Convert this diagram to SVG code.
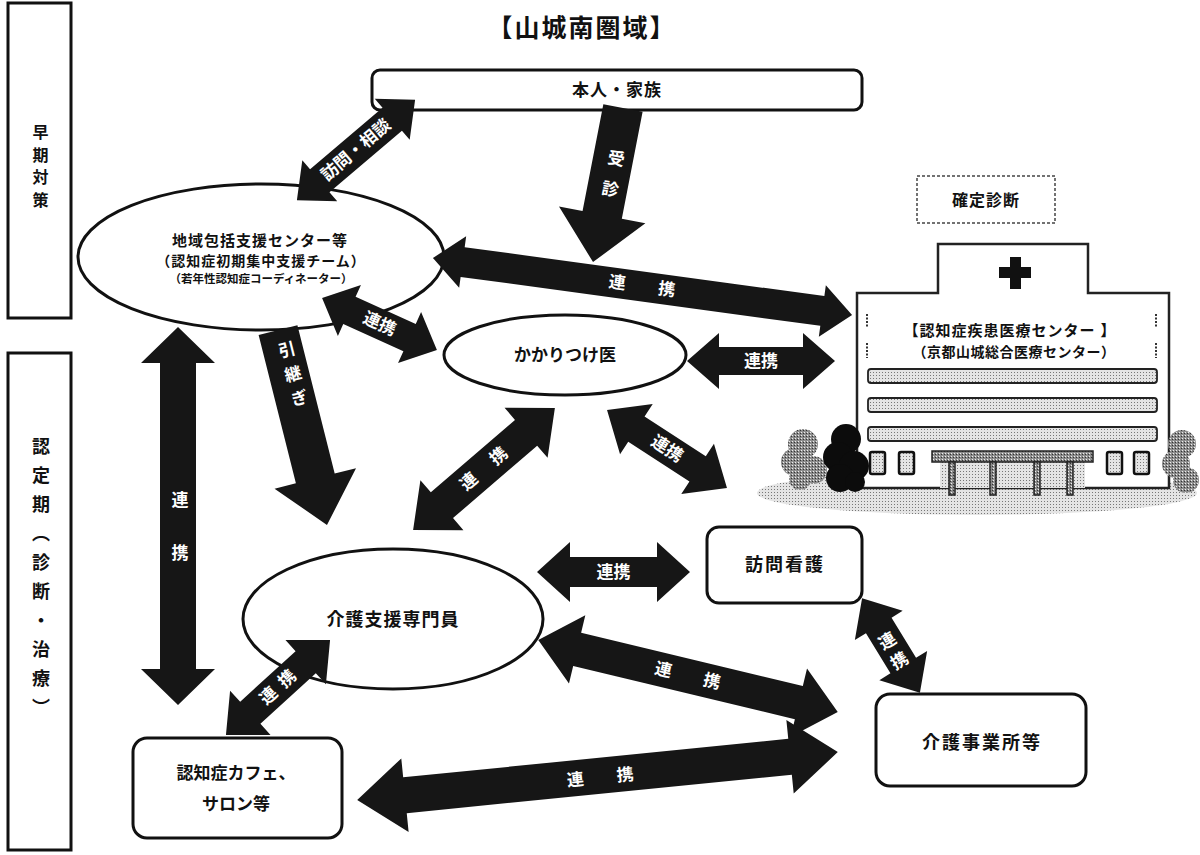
<svg xmlns="http://www.w3.org/2000/svg" width="1200" height="855" viewBox="0 0 1200 855">
  <defs>
    <pattern id="dots" width="3" height="3" patternUnits="userSpaceOnUse">
      <rect width="3" height="3" fill="#e4e4e4"/>
      <rect width="1" height="1" fill="#777"/>
    </pattern>
    <pattern id="dotsDark" width="3" height="3" patternUnits="userSpaceOnUse">
      <rect width="3" height="3" fill="#8c8c8c"/>
      <rect width="1" height="1" fill="#eee"/>
      <rect x="2" y="1" width="1" height="1" fill="#333"/>
    </pattern>
  </defs>
  <style>
    text { font-family: "Liberation Sans", "Noto Sans CJK JP", sans-serif; font-weight: bold; fill: #111; }
    .frame { fill: #fff; stroke: #111; stroke-width: 3; }
    .node { fill: #fff; stroke: #111; stroke-width: 3; }
    .c { text-anchor: middle; dominant-baseline: central; }
    .v { writing-mode: vertical-rl; text-anchor: middle; }
    .arrow { fill: #161616; }
    .lbl { fill: #fff; text-anchor: middle; dominant-baseline: central; font-size: 17px; }
    .vlbl { fill: #fff; writing-mode: vertical-rl; text-anchor: middle; font-size: 17px; }
    .hline { fill: #fff; stroke: #222; stroke-width: 2.5; }
    .band { fill: url(#dots); stroke: #222; stroke-width: 1.8; }
  </style>

  <rect width="1200" height="855" fill="#fff"/>

  <!-- phase labels on the left -->
  <g id="phase-early">
    <rect class="frame" x="8" y="3" width="63" height="315"/>
    <text class="v" x="39" y="169" font-size="16" letter-spacing="6.5">早期対策</text>
  </g>
  <g id="phase-diagnosis">
    <rect class="frame" x="8" y="353" width="63" height="497"/>
    <text class="v" x="39" y="582" font-size="18" letter-spacing="11">認定期（診断・治療）</text>
  </g>

  <text id="title" class="c" x="582" y="28" font-size="25" letter-spacing="2">【山城南圏域】</text>

  <!-- hospital illustration -->
  <g id="hospital">
    <ellipse cx="977" cy="493" rx="220" ry="22" fill="url(#dots)"/>
    <rect x="917" y="176" width="138" height="47" fill="#fff" stroke="#444" stroke-width="1.5" stroke-dasharray="3 2"/>
    <text class="c" x="986" y="200" font-size="16" letter-spacing="1">確定診断</text>
    <path class="hline" d="M857,488 V293 H938 V244 H1088 V293 H1169 V488 Z"/>
    <rect x="999" y="267" width="32" height="11" fill="#111"/>
    <rect x="1010" y="257" width="11" height="32" fill="#111"/>
    <g stroke="#333" stroke-width="2" stroke-dasharray="2 1.5">
      <line x1="867" y1="314" x2="867" y2="328"/>
      <line x1="867" y1="343" x2="867" y2="358"/>
      <line x1="1156" y1="314" x2="1156" y2="328"/>
      <line x1="1156" y1="343" x2="1156" y2="358"/>
    </g>
    <text class="c" x="1010" y="330" font-size="15" letter-spacing="1">【認知症疾患医療センター 】</text>
    <text class="c" x="1014" y="352" font-size="14" letter-spacing="0.5">（京都山城総合医療センター）</text>
    <rect class="band" x="868" y="369" width="289" height="14" rx="3"/>
    <rect class="band" x="868" y="398" width="289" height="14" rx="3"/>
    <rect class="band" x="868" y="427" width="289" height="14" rx="3"/>
    <g fill="url(#dots)" stroke="#111" stroke-width="2.5">
      <rect x="870" y="452" width="15" height="22" rx="2"/>
      <rect x="899" y="452" width="15" height="22" rx="2"/>
      <rect x="1107" y="452" width="15" height="22" rx="2"/>
      <rect x="1134" y="452" width="15" height="22" rx="2"/>
    </g>
    <rect x="940" y="462" width="145" height="26" fill="url(#dots)"/>
    <rect x="932" y="451" width="161" height="11" fill="url(#dotsDark)" stroke="#222" stroke-width="1.5"/>
    <g fill="url(#dotsDark)" stroke="#222" stroke-width="1.5">
      <rect x="949" y="462" width="6" height="33"/>
      <rect x="990" y="462" width="6" height="33"/>
      <rect x="1034" y="462" width="6" height="33"/>
      <rect x="1067" y="462" width="6" height="33"/>
    </g>
    <g fill="url(#dotsDark)">
      <circle cx="803" cy="444" r="15"/>
      <circle cx="795" cy="462" r="14"/>
      <circle cx="813" cy="470" r="14"/>
      <circle cx="800" cy="479" r="11"/>
      <circle cx="1182" cy="444" r="14"/>
      <circle cx="1176" cy="464" r="14"/>
      <circle cx="1186" cy="480" r="13"/>
    </g>
    <g fill="#0c0c0c">
      <circle cx="846" cy="439" r="15"/>
      <circle cx="838" cy="457" r="15"/>
      <circle cx="854" cy="466" r="15"/>
      <circle cx="840" cy="478" r="14"/>
      <circle cx="855" cy="482" r="10"/>
    </g>
  </g>

  <!-- service nodes -->
  <g id="person-family">
    <rect class="node" x="372" y="70" width="490" height="40" rx="8"/>
    <text class="c" x="617" y="90" font-size="17" letter-spacing="1">本人・家族</text>
  </g>
  <g id="community-center">
    <ellipse class="node" cx="261" cy="257" rx="183" ry="73"/>
    <text class="c" x="260" y="240" font-size="15" letter-spacing="1">地域包括支援センター等</text>
    <text class="c" x="261" y="261" font-size="14" letter-spacing="1">（認知症初期集中支援チーム）</text>
    <text class="c" x="261" y="279" font-size="11.5">（若年性認知症コーディネーター）</text>
  </g>
  <g id="family-doctor">
    <ellipse class="node" cx="565" cy="355" rx="121" ry="40"/>
    <text class="c" x="565" y="355" font-size="17">かかりつけ医</text>
  </g>
  <g id="care-manager">
    <ellipse class="node" cx="393" cy="619" rx="150" ry="70"/>
    <text class="c" x="393" y="620" font-size="18" letter-spacing="1">介護支援専門員</text>
  </g>
  <g id="home-nursing">
    <rect class="node" x="707" y="527" width="155" height="76" rx="12"/>
    <text class="c" x="785" y="565" font-size="18" letter-spacing="2">訪問看護</text>
  </g>
  <g id="care-office">
    <rect class="node" x="876" y="694" width="210" height="92" rx="14"/>
    <text class="c" x="982" y="743" font-size="18" letter-spacing="2">介護事業所等</text>
  </g>
  <g id="dementia-cafe">
    <rect class="node" x="133" y="738" width="209" height="100" rx="14"/>
    <text class="c" x="236" y="773" font-size="17">認知症カフェ、</text>
    <text class="c" x="236" y="804" font-size="17">サロン等</text>
  </g>

  <!-- block arrows between nodes -->
  <g id="connectors">
    <!-- visit / consultation -->
    <g transform="translate(356,150) rotate(-40.3)">
      <polygon class="arrow" points="-77.5,0 -47.5,-27 -47.5,-15 47.5,-15 47.5,-27 77.5,0 47.5,27 47.5,15 -47.5,15 -47.5,27"/>
      <text class="lbl" x="0" y="0" font-size="16">訪問・相談</text>
    </g>
    <!-- consultation visit to the doctor -->
    <g transform="translate(608,185) rotate(101)">
      <polygon class="arrow" points="-78.5,-20 30.5,-20 30.5,-44 78.5,0 30.5,44 30.5,20 -78.5,20"/>
    </g>
    <text class="vlbl" transform="translate(610,180) rotate(11)" x="0" y="0" letter-spacing="14">受診</text>
    <!-- handover -->
    <g transform="translate(302.5,427.5) rotate(75.9)">
      <polygon class="arrow" points="-100.5,-20 52.5,-20 52.5,-42 100.5,0 52.5,42 52.5,20 -100.5,20"/>
    </g>
    <text class="vlbl" transform="translate(292,378) rotate(-14)" x="0" y="0" letter-spacing="8">引継ぎ</text>
    <!-- community center ⇔ cafe -->
    <g transform="translate(178,516) rotate(90)">
      <polygon class="arrow" points="-189,0 -153,-37 -153,-18 153,-18 153,-37 189,0 153,37 153,18 -153,18 -153,37"/>
    </g>
    <text class="vlbl" x="178" y="544" letter-spacing="36">連携</text>
    <!-- community center ⇔ family doctor -->
    <g transform="translate(379.5,324) rotate(24.3)">
      <polygon class="arrow" points="-63,0 -33,-28 -33,-15 33,-15 33,-28 63,0 33,28 33,15 -33,15 -33,28"/>
      <text class="lbl" x="0" y="0">連携</text>
    </g>
    <!-- community center ⇔ medical center -->
    <g transform="translate(642.5,286.5) rotate(7.75)">
      <polygon class="arrow" points="-211.5,0 -181.5,-26 -181.5,-15 181.5,-15 181.5,-26 211.5,0 181.5,26 181.5,15 -181.5,15 -181.5,26"/>
      <text class="lbl" x="16" y="0" letter-spacing="33">連携</text>
    </g>
    <!-- family doctor ⇔ medical center -->
    <g transform="translate(761,361)">
      <polygon class="arrow" points="-74,0 -42,-28 -42,-14 42,-14 42,-28 74,0 42,28 42,14 -42,14 -42,28"/>
      <text class="lbl" x="0" y="0" font-size="18">連携</text>
    </g>
    <!-- family doctor ⇔ care manager -->
    <g transform="translate(484,469) rotate(-40.7)">
      <polygon class="arrow" points="-93.5,0 -55.5,-33 -55.5,-17 55.5,-17 55.5,-33 93.5,0 55.5,33 55.5,17 -55.5,17 -55.5,33"/>
      <text class="lbl" x="11" y="0" letter-spacing="22">連携</text>
    </g>
    <!-- family doctor ⇔ home nursing -->
    <g transform="translate(667,449) rotate(33)">
      <polygon class="arrow" points="-71.5,0 -36.5,-30 -36.5,-15 36.5,-15 36.5,-30 71.5,0 36.5,30 36.5,15 -36.5,15 -36.5,30"/>
      <text class="lbl" x="0" y="0">連携</text>
    </g>
    <!-- care manager ⇔ home nursing -->
    <g transform="translate(613.5,572)">
      <polygon class="arrow" points="-76.5,0 -43.5,-30 -43.5,-15 43.5,-15 43.5,-30 76.5,0 43.5,30 43.5,15 -43.5,15 -43.5,30"/>
      <text class="lbl" x="0" y="0">連携</text>
    </g>
    <!-- care manager ⇔ care office -->
    <g transform="translate(688,676) rotate(13.5)">
      <polygon class="arrow" points="-154,0 -114,-35 -114,-17 114,-17 114,-35 154,0 114,35 114,17 -114,17 -114,35"/>
      <text class="lbl" x="16" y="0" letter-spacing="33">連携</text>
    </g>
    <!-- care manager ⇔ cafe -->
    <g transform="translate(278,687.5) rotate(-42.4)">
      <polygon class="arrow" points="-70.5,0 -37.5,-30 -37.5,-15 37.5,-15 37.5,-30 70.5,0 37.5,30 37.5,15 -37.5,15 -37.5,30"/>
      <text class="lbl" x="4" y="0" font-size="16" letter-spacing="8">連携</text>
    </g>
    <!-- cafe ⇔ care office -->
    <g transform="translate(597.5,776) rotate(-5.7)">
      <polygon class="arrow" points="-241.5,0 -193.5,-37 -193.5,-18 193.5,-18 193.5,-37 241.5,0 193.5,37 193.5,18 -193.5,18 -193.5,37"/>
      <text class="lbl" x="19" y="2" letter-spacing="33">連携</text>
    </g>
    <!-- home nursing ⇔ care office -->
    <g transform="translate(891,645.5) rotate(58.6)">
      <polygon class="arrow" points="-55.5,0 -23.5,-28 -23.5,-15 23.5,-15 23.5,-28 55.5,0 23.5,28 23.5,15 -23.5,15 -23.5,28"/>
    </g>
    <text class="vlbl" transform="translate(893,654) rotate(-31.4)" x="0" y="0" font-size="16" letter-spacing="6">連携</text>
  </g>
</svg>
